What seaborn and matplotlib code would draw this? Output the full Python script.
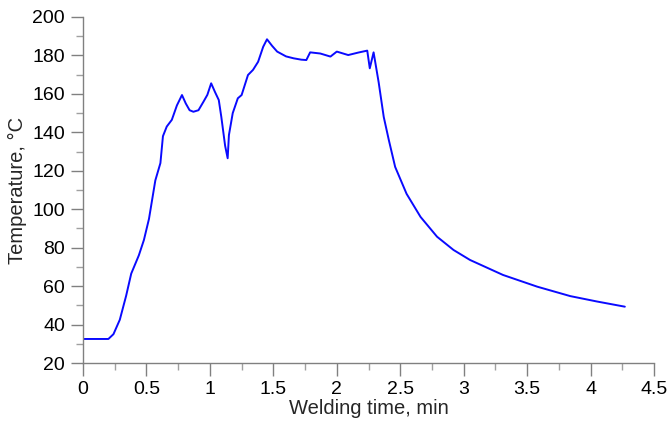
import numpy as np
import pandas as pd
import matplotlib
matplotlib.use("Agg")
import matplotlib.pyplot as plt
import seaborn as sns
from matplotlib.ticker import MultipleLocator

# =========================
# DATA
# =========================
time_min = [0.00, 0.10, 0.20, 0.24, 0.29, 0.34, 0.38, 0.44, 0.48, 0.52,
            0.57, 0.61, 0.63, 0.66, 0.70, 0.74, 0.78, 0.81, 0.84, 0.87, 0.91,
            0.95, 0.98, 1.01, 1.04, 1.07, 1.09, 1.12, 1.14, 1.15, 1.18, 1.22,
            1.25, 1.30, 1.34, 1.38, 1.42, 1.45, 1.49, 1.53, 1.60, 1.66, 1.72,
            1.76, 1.79, 1.87, 1.95, 2.00, 2.09, 2.17, 2.24, 2.26, 2.29, 2.33,
            2.37, 2.41, 2.46, 2.55, 2.66, 2.79, 2.92, 3.05, 3.31, 3.58, 3.84,
            4.05, 4.27]
temp_c = [32.5, 32.5, 32.5, 35.0, 42.5, 55.0, 66.5, 76.0, 84.0, 95.0,
          115.0, 124.0, 138.0, 143.0, 146.5, 154.0, 159.4, 155.0, 151.5, 150.7, 151.5,
          156.0, 159.5, 165.5, 161.0, 156.8, 148.0, 133.0, 126.5, 138.6, 150.0, 157.7,
          159.4, 169.8, 172.5, 176.7, 184.5, 188.4, 185.0, 182.0, 179.5, 178.5, 177.8,
          177.6, 181.6, 181.0, 179.4, 182.0, 180.2, 181.5, 182.5, 173.3, 181.6, 166.0,
          148.0, 136.0, 122.0, 108.0, 96.0, 85.7, 78.8, 73.6, 65.8, 59.7, 54.8,
          52.0, 49.3]

df = pd.DataFrame({"time": time_min, "temp": temp_c})

# =========================
# PLOT
# =========================
sns.set_style("white")
plt.rcParams["font.family"] = ["Liberation Sans", "DejaVu Sans"]

fig = plt.figure(figsize=(6.71, 4.30), dpi=100)
ax = fig.add_axes([0.1237, 0.1558, 0.851, 0.8047])

sns.lineplot(data=df, x="time", y="temp", ax=ax, color="#0a0aff",
             linewidth=1.4, sort=False, estimator=None)

ax.set_xlim(0, 4.5)
ax.set_ylim(20, 200)
ax.xaxis.set_major_locator(MultipleLocator(0.5))
ax.xaxis.set_minor_locator(MultipleLocator(0.25))
ax.yaxis.set_major_locator(MultipleLocator(20))
ax.yaxis.set_minor_locator(MultipleLocator(10))
ax.set_xticklabels([("%g" % v) for v in ax.get_xticks()])

for s in ["top", "right"]:
    ax.spines[s].set_visible(False)
for s in ["left", "bottom"]:
    ax.spines[s].set_color("#808080")
    ax.spines[s].set_linewidth(1.0)

ax.tick_params(which="major", direction="out", length=9, width=1.0,
               color="#808080", labelsize=14, labelcolor="black", pad=4,
               left=True, bottom=True)
ax.tick_params(which="minor", direction="out", length=5, width=1.0,
               color="#a0a0a0", left=True, bottom=True)

ax.set_xlabel("Welding time, min", fontsize=14.5, labelpad=1)
ax.set_ylabel("Temperature, °C", fontsize=14.5, labelpad=4)

fig.savefig("out.png", dpi=100)
